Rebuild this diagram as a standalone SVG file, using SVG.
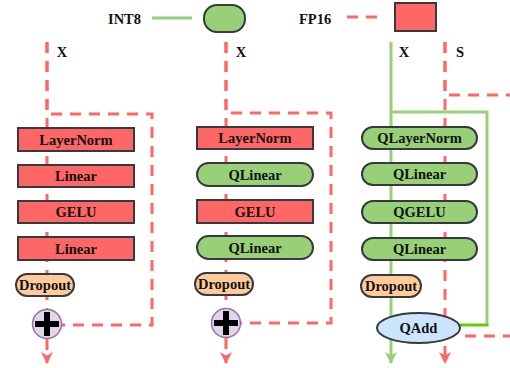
<svg xmlns="http://www.w3.org/2000/svg" width="510" height="368" viewBox="0 0 510 368">
<style>
text{font-family:"Liberation Serif","Times New Roman",serif;font-weight:bold;font-size:14.5px;fill:#111;text-anchor:middle}
.lbl{text-anchor:start}
.fp{fill:#ff6666;stroke:#36393d;stroke-width:2}
.q{fill:#97d077;stroke:#36393d;stroke-width:2}
.dp{fill:#ffcc99;stroke:#36393d;stroke-width:2}
.red{fill:none;stroke:#ff6666;stroke-width:3;stroke-dasharray:11 8}
.grn{fill:none;stroke:#97d077;stroke-width:3}
.plus{fill:#e1d5e7;stroke:#9673a6;stroke-width:1.5}
.pl{stroke:#000;stroke-width:6}
</style>
<defs>
<marker id="ar" viewBox="0 0 12 12" refX="11" refY="6" markerWidth="4" markerHeight="4" orient="auto" markerUnits="strokeWidth">
<path d="M0,0 L12,6 L0,12 L3.5,6 z" fill="#ff6666"/>
</marker>
<marker id="ag" viewBox="0 0 12 12" refX="11" refY="6" markerWidth="4" markerHeight="4" orient="auto" markerUnits="strokeWidth">
<path d="M0,0 L12,6 L0,12 L3.5,6 z" fill="#97d077"/>
</marker>
</defs>

<g id="legend">
<text class="lbl" x="108" y="24">INT8</text>
<line x1="152" y1="18" x2="192" y2="18" class="grn"/>
<rect x="204" y="5" width="41" height="27" rx="13" class="q" stroke-width="1.5"/>
<text class="lbl" x="299" y="24">FP16</text>
<line x1="347" y1="17" x2="384" y2="17" class="red"/>
<rect x="395" y="3" width="41" height="28" class="fp" stroke-width="1.5"/>
</g>

<g id="connectors">
<!-- column 1 -->
<path d="M47,42 V310" class="red"/>
<path d="M47,42 V114 H152 V325 H62" class="red"/>
<path d="M47,339 V363" class="red" stroke-dasharray="11 6" marker-end="url(#ar)"/>
<!-- column 2 -->
<path d="M226,42 V309" class="red"/>
<path d="M226,42 V113 H331 V323 H241" class="red"/>
<path d="M226,338 V363" class="red" stroke-dasharray="11 6" marker-end="url(#ar)"/>
<!-- column 3 -->
<path d="M391,42 V363" class="grn" marker-end="url(#ag)"/>
<path d="M391,112 H487 V325" class="grn"/>
<path d="M460,325 H488.5" fill="none" stroke="#66cc00" stroke-width="3"/>
<path d="M445,42 V363" class="red" marker-end="url(#ar)"/>
<path d="M445,42 V95 H510" class="red"/>
<path d="M465,336 H510" class="red"/>
</g>

<g id="labels">
<text x="62" y="57">X</text>
<text x="241" y="57">X</text>
<text x="404" y="57">X</text>
<text x="460" y="57">S</text>
</g>

<g id="c1-layernorm"><rect x="18" y="128" width="116" height="23" class="fp" stroke="#111"/><text x="76" y="144.5">LayerNorm</text></g>
<g id="c1-linear1"><rect x="18" y="165" width="116" height="22" class="fp"/><text x="76" y="181">Linear</text></g>
<g id="c1-gelu"><rect x="18" y="201" width="116" height="22" class="fp"/><text x="76" y="217">GELU</text></g>
<g id="c1-linear2"><rect x="18" y="237" width="116" height="23" class="fp"/><text x="76" y="253.5">Linear</text></g>
<g id="c1-dropout"><rect x="16" y="274" width="58" height="22" rx="11" class="dp"/><text x="45" y="290">Dropout</text></g>
<g id="c1-add"><circle cx="47" cy="324" r="14.5" class="plus"/><path d="M35,324 H59 M47,312 V336" class="pl"/></g>

<g id="c2-layernorm"><rect x="197" y="127" width="116" height="22" class="fp"/><text x="255" y="143">LayerNorm</text></g>
<g id="c2-qlinear1"><rect x="197" y="163" width="116" height="23" rx="11.5" class="q"/><text x="255" y="179.5">QLinear</text></g>
<g id="c2-gelu"><rect x="197" y="200" width="116" height="23" class="fp"/><text x="255" y="216.5">GELU</text></g>
<g id="c2-qlinear2"><rect x="197" y="236" width="116" height="23" rx="11.5" class="q"/><text x="255" y="252.5">QLinear</text></g>
<g id="c2-dropout"><rect x="195" y="273" width="58" height="22" rx="11" class="dp"/><text x="224" y="289">Dropout</text></g>
<g id="c2-add"><circle cx="226" cy="323" r="14.5" class="plus"/><path d="M214,323 H238 M226,311 V335" class="pl"/></g>

<g id="c3-qlayernorm"><rect x="362" y="127" width="115" height="22" rx="11" class="q"/><text x="419.5" y="143">QLayerNorm</text></g>
<g id="c3-qlinear1"><rect x="362" y="163" width="115" height="22" rx="11" class="q"/><text x="419.5" y="179">QLinear</text></g>
<g id="c3-qgelu"><rect x="362" y="201" width="115" height="22" rx="11" class="q"/><text x="419.5" y="217">QGELU</text></g>
<g id="c3-qlinear2"><rect x="362" y="238" width="115" height="22" rx="11" class="q"/><text x="419.5" y="254">QLinear</text></g>
<g id="c3-dropout"><rect x="361" y="275" width="60" height="22" rx="11" class="dp"/><text x="391" y="291">Dropout</text></g>
<g id="c3-qadd"><ellipse cx="418.5" cy="328" rx="41.5" ry="15" fill="#cce5ff" stroke="#36393d" stroke-width="2"/><text x="418.5" y="333">QAdd</text></g>
</svg>
